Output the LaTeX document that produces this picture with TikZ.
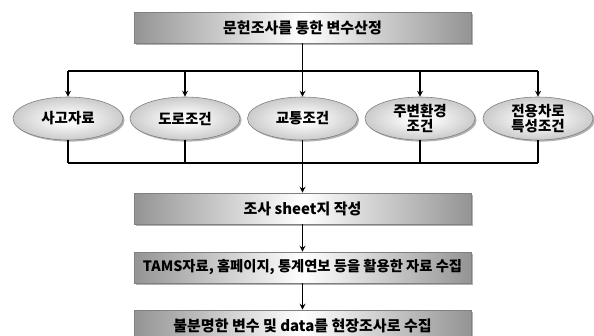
\documentclass[tikz,border=0pt]{standalone}
\usepackage{fontspec}
\setmainfont{Noto Sans CJK KR}
\usetikzlibrary{shapes.geometric,shadows,arrows.meta}
\pgfdeclareradialshading{ellshade}{\pgfpoint{0bp}{0bp}}{color(0bp)=(white); color(8bp)=(white!96!black); color(50bp)=(black!45); color(70bp)=(black!45)}
\begin{document}
\begin{tikzpicture}[x=1pt,y=-1pt,
  shd/.style={drop shadow={shadow xshift=1.6pt,shadow yshift=-1.6pt,opacity=0.3,fill=black}},
  box/.style={shd,draw=black!50,line width=0.6pt,minimum width=337pt,minimum height=31pt,inner sep=0pt,
    left color=black!42,right color=black!42,middle color=white,font=\bfseries\fontsize{15}{18}\selectfont},
  ell/.style={shd,ellipse,draw=black!50,line width=0.6pt,minimum width=110pt,minimum height=43pt,inner sep=0pt,
    shading=ellshade,align=center,font=\bfseries\fontsize{14.5}{15}\selectfont},
  conn/.style={line width=1.1pt,black},
  arr/.style={conn,-{Stealth[length=6pt,width=6pt,inset=2pt]}}]
\clip (0,0) rectangle (594,335);
\fill[white] (0,0) rectangle (594,335);
\node[box] (top) at (302.5,27.5) {문헌조사를 통한 변수산정};
\node[ell] (e1) at (68,118.5) {사고자료};
\node[ell] (e2) at (185,118.5) {도로조건};
\node[ell] (e3) at (302.5,118.5) {교통조건};
\node[ell] (e4) at (420,118.5) {주변환경\\조건};
\node[ell] (e5) at (538,118.5) {전용차로\\특성조건};
\node[box] (b2) at (302.5,208.5) {조사 sheet지 작성};
\node[box,font=\bfseries\fontsize{14.3}{18}\selectfont] (b3) at (302.5,267.5) {TAMS자료, 홈페이지, 통계연보 등을 활용한 자료 수집};
\node[box] (b4) at (302.5,325.5) {불분명한 변수 및 data를 현장조사로 수집};
\coordinate (split) at (302.5,71);
\coordinate (merge) at (302.5,163);
\draw[conn] (top) -- (split);
\draw[conn] (e1 |- split) -- (e5 |- split);
\foreach \i in {1,...,5}{
  \draw[arr] (e\i |- split) -- (e\i);
  \draw[conn] (e\i) -- (e\i |- merge);
}
\draw[conn] (e1 |- merge) -- (e5 |- merge);
\draw[arr] (merge) -- (b2);
\draw[arr] (b2) -- (b3);
\draw[arr] (b3) -- (b4);
\end{tikzpicture}
\end{document}
